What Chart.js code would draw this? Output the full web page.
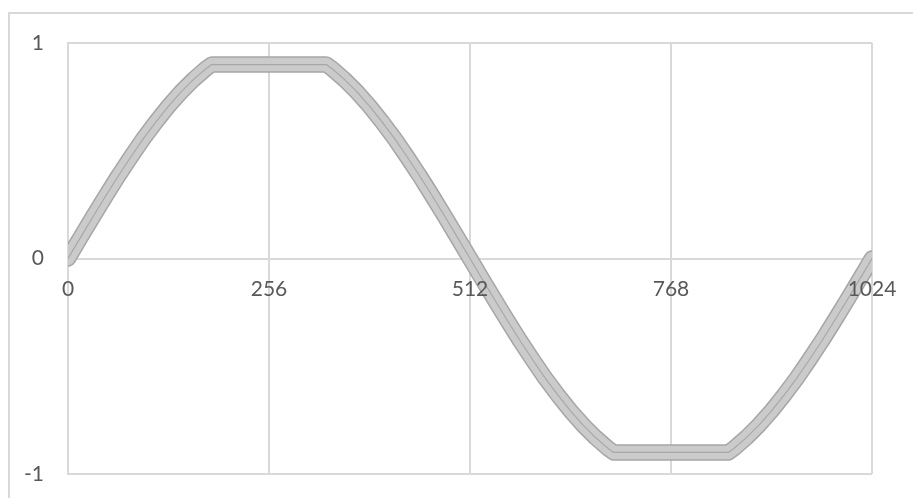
<!DOCTYPE html>
<html>
<head>
<meta charset="utf-8">
<script src="https://cdn.jsdelivr.net/npm/chart.js@4/dist/chart.umd.min.js"></script>
<style>
  html, body { margin: 0; padding: 0; background: #fff; }
  #frame {
    position: absolute; left: 8px; top: 12px;
    width: 1000px; height: 1000px;
    border: 2px solid #d9d9d9;
  }
  #wrap { position: absolute; left: 0; top: 0; width: 913px; height: 498px; }
</style>
</head>
<body>
<div id="frame"></div>
<div id="wrap"><canvas id="wave"></canvas></div>
<script>
// sample positions and clipped wave values
const sampleX = [
  0, 16, 32, 48, 64, 80, 96, 112, 128, 144, 160, 176, 183,
  192, 208, 224, 240, 256, 272, 288, 304, 320, 329,
  336, 352, 368, 384, 400, 416, 432, 448, 464, 480, 496, 512,
  528, 544, 560, 576, 592, 608, 624, 640, 656, 672, 688, 695,
  704, 720, 736, 752, 768, 784, 800, 816, 832, 841,
  848, 864, 880, 896, 912, 928, 944, 960, 976, 992, 1008, 1024
];
const sampleY = [
  0, 0.098, 0.195, 0.290, 0.383, 0.471, 0.556, 0.634, 0.707, 0.773, 0.831, 0.882, 0.9,
  0.9, 0.9, 0.9, 0.9, 0.9, 0.9, 0.9, 0.9, 0.9, 0.9,
  0.882, 0.831, 0.773, 0.707, 0.634, 0.556, 0.471, 0.383, 0.290, 0.195, 0.098, 0,
  -0.098, -0.195, -0.290, -0.383, -0.471, -0.556, -0.634, -0.707, -0.773, -0.831, -0.882, -0.9,
  -0.9, -0.9, -0.9, -0.9, -0.9, -0.9, -0.9, -0.9, -0.9, -0.9,
  -0.882, -0.831, -0.773, -0.707, -0.634, -0.556, -0.471, -0.383, -0.290, -0.195, -0.098, 0
];
const xTicks = [0, 256, 512, 768, 1024];
const yTicks = [-1, 0, 1];

const points = sampleX.map((x, i) => ({ x: x, y: sampleY[i] }));

// one band drawn as three stacked strokes: centre line, fill, outline
function band(color, width) {
  return {
    data: points,
    borderColor: color,
    borderWidth: width,
    borderCapStyle: 'round',
    borderJoinStyle: 'round',
    pointRadius: 0,
    fill: false,
    tension: 0
  };
}

// keep tick labels from pushing the plot area around
function noPadding(s) {
  s.paddingLeft = 0;
  s.paddingRight = 0;
  s.paddingTop = 0;
  s.paddingBottom = 0;
}

const gridColor = '#d9d9d9';
const tickFont = { family: 'Lato', size: 21 };

new Chart(document.getElementById('wave'), {
  type: 'line',
  data: {
    datasets: [
      band('#a8a8a8', 1.2),
      band('#cbcbcb', 13.5),
      band('#a6a6a6', 16.5)
    ]
  },
  options: {
    responsive: true,
    maintainAspectRatio: false,
    animation: false,
    layout: { autoPadding: false, padding: { left: 0, top: 43, right: 41, bottom: 24 } },
    plugins: { legend: { display: false }, tooltip: { enabled: false } },
    scales: {
      x: {
        type: 'linear',
        position: { y: 0 },
        min: 0,
        max: 1024,
        afterBuildTicks: (s) => { s.ticks = xTicks.map(v => ({ value: v })); },
        afterFit: noPadding,
        ticks: {
          color: '#595959', font: tickFont, padding: 18, maxRotation: 0, z: 1,
          callback: (v) => String(v)
        },
        grid: { color: gridColor, lineWidth: 2, drawTicks: false },
        border: { color: gridColor, width: 2 }
      },
      y: {
        min: -1,
        max: 1,
        afterBuildTicks: (s) => { s.ticks = yTicks.map(v => ({ value: v })); },
        afterFit: (s) => { s.width = 68; noPadding(s); },
        ticks: { color: '#595959', font: tickFont, padding: 24, callback: (v) => String(v) },
        grid: { color: gridColor, lineWidth: 2, drawTicks: false },
        border: { color: gridColor, width: 2 }
      }
    }
  }
});
</script>
</body>
</html>
